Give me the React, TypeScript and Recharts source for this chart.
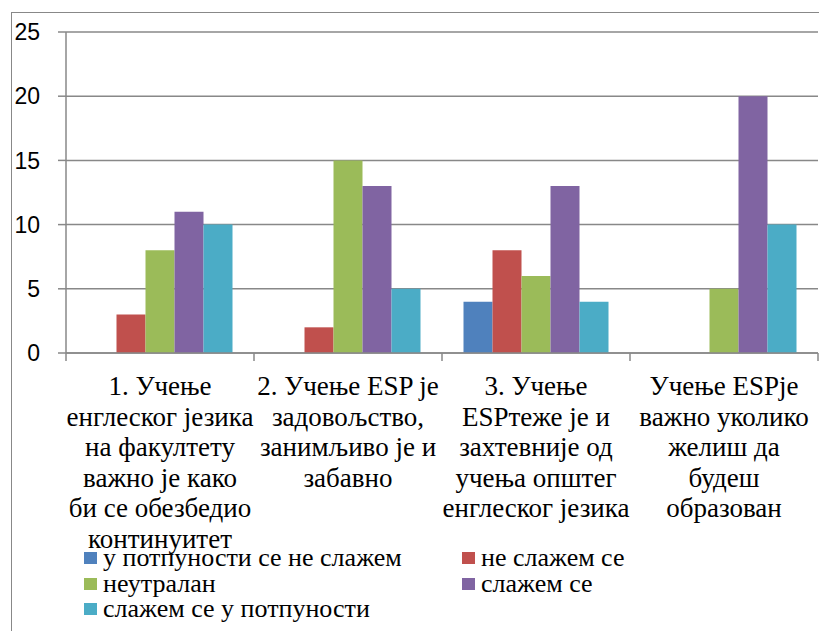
import { Bar, BarChart, CartesianGrid, Legend, XAxis, YAxis } from "recharts";

const categories = [
  "1. Учење\nенглеског језика\nна факултету\nважно је како\nби се обезбедио\nконтинуитет",
  "2. Учење ESP је\nзадовољство,\nзанимљиво је и\nзабавно",
  "3. Учење\nESPтеже је и\nзахтевније од\nучења општег\nенглеског језика",
  "Учење ESPје\nважно уколико\nжелиш да\nбудеш\nобразован",
];

const stronglyDisagree = [0, 0, 4, 0];
const disagree = [3, 2, 8, 0];
const neutral = [8, 15, 6, 5];
const agree = [11, 13, 13, 20];
const stronglyAgree = [10, 5, 4, 10];

const seriesNames = [
  "у потпуности се не слажем",
  "не слажем се",
  "неутралан",
  "слажем се",
  "слажем се у потпуности",
];
const seriesColors = ["#4F81BD", "#C0504D", "#9BBB59", "#8064A2", "#4BACC6"];
const seriesKeys = ["s1", "s2", "s3", "s4", "s5"];
const yTicks = [0, 5, 10, 15, 20, 25];

const data = categories.map((name, i) => ({
  name,
  s1: stronglyDisagree[i],
  s2: disagree[i],
  s3: neutral[i],
  s4: agree[i],
  s5: stronglyAgree[i],
}));

const W = 819;
const H = 631;
const PLOT_LEFT = 66;
const PLOT_RIGHT = 818;
const AXIS = "#888888";
const SERIF = "Liberation Serif";

function CategoryTick(props: any) {
  const { x, y, payload, index } = props;
  const half = (PLOT_RIGHT - PLOT_LEFT) / categories.length / 2;
  const axisY = y - 8;
  const lines = String(payload.value).split("\n");
  return (
    <g>
      <line x1={x - half} x2={x - half} y1={axisY} y2={axisY + 8} stroke={AXIS} strokeWidth={1.5} />
      {index === categories.length - 1 && (
        <line x1={x + half} x2={x + half} y1={axisY} y2={axisY + 8} stroke={AXIS} strokeWidth={1.5} />
      )}
      <text textAnchor="middle" fontFamily={SERIF} fontSize={27} fill="#000">
        {lines.map((l, i) => (
          <tspan key={i} x={x} y={y + 34 + i * 30.6}>
            {l}
          </tspan>
        ))}
      </text>
    </g>
  );
}

function LegendBox() {
  return (
    <div style={{ position: "relative", width: W, height: H }}>
      {seriesNames.map((name, i) => {
        const col = i % 2;
        const row = Math.floor(i / 2);
        return (
          <div
            key={name}
            style={{
              position: "absolute",
              left: col ? 462 : 84,
              top: 545 + row * 25.5,
              display: "flex",
              alignItems: "flex-end",
              whiteSpace: "nowrap",
            }}
          >
            <span style={{ display: "inline-block", width: 13, height: 12, background: seriesColors[i], marginRight: 6, marginBottom: 7 }} />
            <span style={{ fontFamily: SERIF, fontSize: 26, lineHeight: "26px", color: "#000" }}>{name}</span>
          </div>
        );
      })}
    </div>
  );
}

export default function App() {
  return (
    <div style={{ position: "absolute", left: 0, top: 0, width: W, height: H, overflow: "hidden", background: "#fff" }}>
      <div
        style={{
          position: "absolute",
          left: 11,
          top: 12,
          width: W,
          height: H,
          borderLeft: `1.5px solid ${AXIS}`,
          borderTop: `1.5px solid ${AXIS}`,
        }}
      />
      <div style={{ position: "absolute", left: 0, top: 0 }}>
        <BarChart
          width={W}
          height={H}
          data={data}
          margin={{ top: 32, right: W - PLOT_RIGHT, bottom: 0, left: 0 }}
          barCategoryGap={21.5}
          barGap={0}
        >
          <CartesianGrid vertical={false} stroke={AXIS} strokeWidth={1.5} />
          <XAxis
            dataKey="name"
            height={278}
            interval={0}
            tickLine={false}
            tickSize={8}
            tickMargin={0}
            stroke={AXIS}
            strokeWidth={1.5}
            tick={<CategoryTick />}
          />
          <YAxis
            width={PLOT_LEFT}
            domain={[0, 25]}
            ticks={yTicks}
            tickSize={8}
            tickMargin={18}
            stroke={AXIS}
            strokeWidth={1.5}
            tick={{ fill: "#000", fontSize: 23, fontFamily: "Liberation Sans" }}
          />
          <Legend
            verticalAlign="middle"
            align="center"
            layout="horizontal"
            content={<LegendBox />}
            wrapperStyle={{ top: 0, left: 0, width: W, height: H, pointerEvents: "none" }}
          />
          {seriesKeys.map((k, i) => (
            <Bar key={k} dataKey={k} name={seriesNames[i]} fill={seriesColors[i]} isAnimationActive={false} />
          ))}
        </BarChart>
      </div>
    </div>
  );
}
